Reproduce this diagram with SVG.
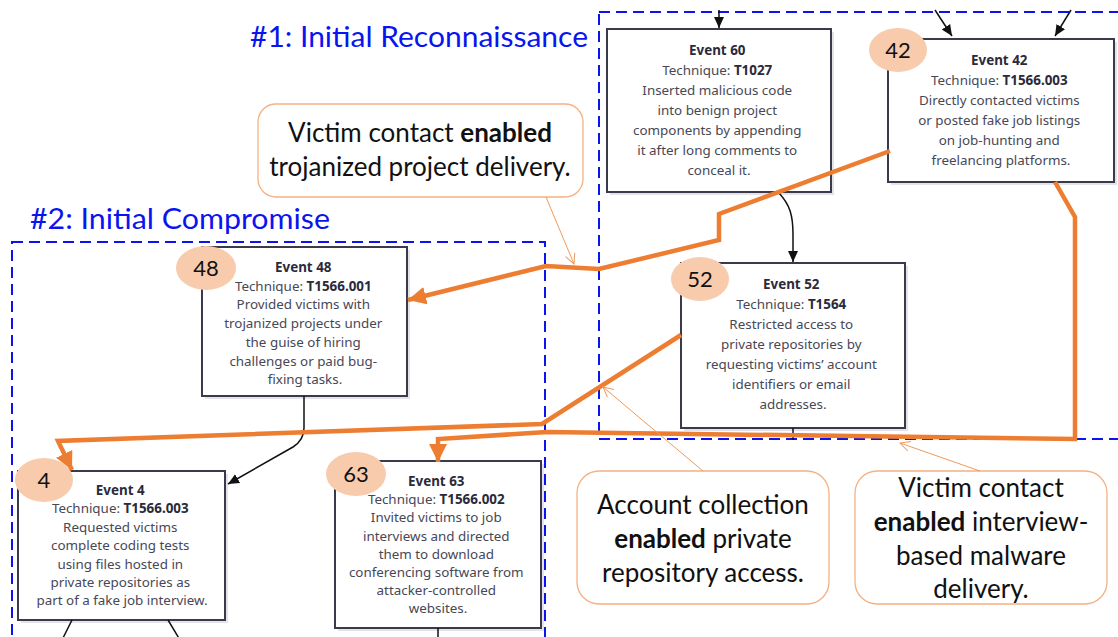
<svg xmlns="http://www.w3.org/2000/svg" width="1118" height="637" viewBox="0 0 1118 637">
  <style>
    .phase { fill: none; stroke: #0a14f0; stroke-width: 2; stroke-dasharray: 11 6; }
    .title { font-family: Lato, "Liberation Sans", sans-serif; font-size: 29px; fill: #0a14f0; }
    .shadow { fill: #e4e4e8; }
    .box { fill: #ffffff; stroke: #3a3a4c; stroke-width: 2; }
    .ntext { font-family: "Noto Sans", "Open Sans", sans-serif; font-size: 13.4px; fill: #474756; text-anchor: middle; }
    .b { font-weight: bold; fill: #2a2a3a; }
    .badge { fill: #f8cbad; }
    .btext { font-family: Lato, "Liberation Sans", sans-serif; font-size: 22px; fill: #111; text-anchor: middle; }
    .callout { fill: #ffffff; stroke: #f4b183; stroke-width: 1.3; }
    .ctext { font-family: Lato, "Liberation Sans", sans-serif; font-size: 26px; fill: #111; text-anchor: middle; }
    .flow { fill: none; stroke: #111; stroke-width: 1.5; }
    .link { fill: none; stroke: #ed7d31; stroke-width: 4.5; stroke-linejoin: miter; }
    .pointer { fill: none; stroke: #f09a5c; stroke-width: 1; }
  </style>
  <defs>
    <marker id="arrowBlack" markerUnits="userSpaceOnUse" markerWidth="12" markerHeight="12" refX="11" refY="6" orient="auto">
      <path d="M0,1 L11,6 L0,11 z" fill="#111"/>
    </marker>
    <marker id="arrowOrange" markerUnits="userSpaceOnUse" markerWidth="20" markerHeight="18" refX="18" refY="9" orient="auto">
      <path d="M0,0 L18,9 L0,18 z" fill="#ed7d31"/>
    </marker>
    <marker id="arrowThin" markerUnits="userSpaceOnUse" markerWidth="12" markerHeight="12" refX="11" refY="6" orient="auto">
      <path d="M1,1 L11,6 L1,11" fill="none" stroke="#f09a5c" stroke-width="1"/>
    </marker>
  </defs>

  <rect width="1118" height="637" fill="#ffffff"/>

  <!-- phase frames -->
  <g id="phase1">
    <rect class="phase" x="599" y="12" width="540" height="427"/>
    <text class="title" x="250" y="47" textLength="338" lengthAdjust="spacingAndGlyphs">#1: Initial Reconnaissance</text>
  </g>
  <g id="phase2">
    <rect class="phase" x="12" y="242" width="533" height="420"/>
    <text class="title" x="30" y="229" textLength="300" lengthAdjust="spacingAndGlyphs">#2: Initial Compromise</text>
  </g>

  <!-- event nodes -->
  <g id="event60">
    <rect class="shadow" x="610" y="32" width="224" height="163"/>
    <rect class="box" x="607" y="29" width="224" height="163"/>
    <text class="ntext" x="719" y="55">
      <tspan x="719" class="b">Event 60</tspan>
      <tspan x="719" dy="20">Technique: <tspan class="b">T1027</tspan></tspan>
      <tspan x="719" dy="20">Inserted malicious code</tspan>
      <tspan x="719" dy="20">into benign project</tspan>
      <tspan x="719" dy="20">components by appending</tspan>
      <tspan x="719" dy="20">it after long comments to</tspan>
      <tspan x="719" dy="20">conceal it.</tspan>
    </text>
  </g>

  <g id="event42">
    <rect class="shadow" x="891" y="42" width="226" height="143"/>
    <rect class="box" x="888" y="39" width="226" height="143"/>
    <text class="ntext" x="1001" y="65">
      <tspan x="1001" class="b">Event 42</tspan>
      <tspan x="1001" dy="20">Technique: <tspan class="b">T1566.003</tspan></tspan>
      <tspan x="1001" dy="20">Directly contacted victims</tspan>
      <tspan x="1001" dy="20">or posted fake job listings</tspan>
      <tspan x="1001" dy="20">on job-hunting and</tspan>
      <tspan x="1001" dy="20">freelancing platforms.</tspan>
    </text>
    <ellipse class="badge" cx="898" cy="50" rx="29" ry="22"/>
    <text class="btext" x="898" y="58">42</text>
  </g>

  <g id="event48">
    <rect class="shadow" x="205" y="250" width="205" height="149"/>
    <rect class="box" x="202" y="247" width="205" height="149"/>
    <text class="ntext" x="305" y="272">
      <tspan x="305" class="b">Event 48</tspan>
      <tspan x="305" dy="18.7">Technique: <tspan class="b">T1566.001</tspan></tspan>
      <tspan x="305" dy="18.7">Provided victims with</tspan>
      <tspan x="305" dy="18.7">trojanized projects under</tspan>
      <tspan x="305" dy="18.7">the guise of hiring</tspan>
      <tspan x="305" dy="18.7">challenges or paid bug-</tspan>
      <tspan x="305" dy="18.7">fixing tasks.</tspan>
    </text>
    <ellipse class="badge" cx="206" cy="268" rx="30" ry="22"/>
    <text class="btext" x="206" y="276">48</text>
  </g>

  <g id="event52">
    <rect class="shadow" x="684" y="266" width="224" height="165"/>
    <rect class="box" x="681" y="263" width="224" height="165"/>
    <text class="ntext" x="793" y="289">
      <tspan x="793" class="b">Event 52</tspan>
      <tspan x="793" dy="20">Technique: <tspan class="b">T1564</tspan></tspan>
      <tspan x="793" dy="20">Restricted access to</tspan>
      <tspan x="793" dy="20">private repositories by</tspan>
      <tspan x="793" dy="20">requesting victims’ account</tspan>
      <tspan x="793" dy="20">identifiers or email</tspan>
      <tspan x="793" dy="20">addresses.</tspan>
    </text>
    <ellipse class="badge" cx="700" cy="279" rx="29" ry="22"/>
    <text class="btext" x="700" y="287">52</text>
  </g>

  <g id="event4">
    <rect class="shadow" x="21" y="474" width="207" height="149"/>
    <rect class="box" x="18" y="471" width="207" height="149"/>
    <text class="ntext" x="122" y="495">
      <tspan x="122" class="b">Event 4</tspan>
      <tspan x="122" dy="18.4">Technique: <tspan class="b">T1566.003</tspan></tspan>
      <tspan x="122" dy="18.4">Requested victims</tspan>
      <tspan x="122" dy="18.4">complete coding tests</tspan>
      <tspan x="122" dy="18.4">using files hosted in</tspan>
      <tspan x="122" dy="18.4">private repositories as</tspan>
      <tspan x="122" dy="18.4">part of a fake job interview.</tspan>
    </text>
    <ellipse class="badge" cx="44" cy="480" rx="29" ry="22"/>
    <text class="btext" x="44" y="488">4</text>
  </g>

  <g id="event63">
    <rect class="shadow" x="338" y="464" width="206" height="167"/>
    <rect class="box" x="335" y="461" width="206" height="167"/>
    <text class="ntext" x="438" y="486">
      <tspan x="438" class="b">Event 63</tspan>
      <tspan x="438" dy="18.2">Technique: <tspan class="b">T1566.002</tspan></tspan>
      <tspan x="438" dy="18.2">Invited victims to job</tspan>
      <tspan x="438" dy="18.2">interviews and directed</tspan>
      <tspan x="438" dy="18.2">them to download</tspan>
      <tspan x="438" dy="18.2">conferencing software from</tspan>
      <tspan x="438" dy="18.2">attacker-controlled</tspan>
      <tspan x="438" dy="18.2">websites.</tspan>
    </text>
    <ellipse class="badge" cx="356" cy="474" rx="30" ry="22"/>
    <text class="btext" x="356" y="482">63</text>
  </g>

  <!-- callout notes -->
  <g id="note-trojanized">
    <rect class="callout" x="258" y="104" width="325" height="93" rx="18"/>
    <text class="ctext" x="420" y="142">Victim contact <tspan font-weight="bold">enabled</tspan></text>
    <text class="ctext" x="420" y="176">trojanized project delivery.</text>
  </g>
  <g id="note-account">
    <rect class="callout" x="577" y="471" width="252" height="133" rx="22"/>
    <text class="ctext" x="703" y="514">Account collection</text>
    <text class="ctext" x="703" y="548"><tspan font-weight="bold">enabled</tspan> private</text>
    <text class="ctext" x="703" y="582">repository access.</text>
  </g>
  <g id="note-interview">
    <rect class="callout" x="855" y="471" width="252" height="133" rx="22"/>
    <text class="ctext" x="981" y="497">Victim contact</text>
    <text class="ctext" x="981" y="531"><tspan font-weight="bold">enabled</tspan> interview-</text>
    <text class="ctext" x="981" y="565">based malware</text>
    <text class="ctext" x="981" y="598">delivery.</text>
  </g>

  <!-- connectors -->
  <g id="connectors">
    <!-- event flow -->
    <path class="flow" d="M719,10 L719,28" marker-end="url(#arrowBlack)"/>
    <path class="flow" d="M935,10 L952,36" marker-end="url(#arrowBlack)"/>
    <path class="flow" d="M1071,10 L1055,36" marker-end="url(#arrowBlack)"/>
    <path class="flow" d="M779,193 C790,205 793,215 793,235 L793,262" marker-end="url(#arrowBlack)"/>
    <path class="flow" d="M793,428 L793,440"/>
    <path class="flow" d="M304,396 L304,428 Q304,440 293,447 L228,484" marker-end="url(#arrowBlack)"/>
    <path class="flow" d="M72,620 L62,640"/>
    <path class="flow" d="M168,620 L180,640"/>
    <path class="flow" d="M438,628 L438,640"/>

    <!-- enabling links -->
    <path class="link" d="M890,151 L719,214 L719,240 L599,269 L546,266 L408,300" marker-end="url(#arrowOrange)"/>
    <path class="link" d="M1055,182 L1075,217 L1075,439 L547,432 L438,439 L438,462" marker-end="url(#arrowOrange)"/>
    <path class="link" d="M681,335 L542,424 L58,441 L72,470" marker-end="url(#arrowOrange)"/>

    <!-- note pointers -->
    <path class="pointer" d="M546,197 L574,264" marker-end="url(#arrowThin)"/>
    <path class="pointer" d="M703,471 L603,387" marker-end="url(#arrowThin)"/>
    <path class="pointer" d="M980,471 L900,443" marker-end="url(#arrowThin)"/>
  </g>
</svg>
